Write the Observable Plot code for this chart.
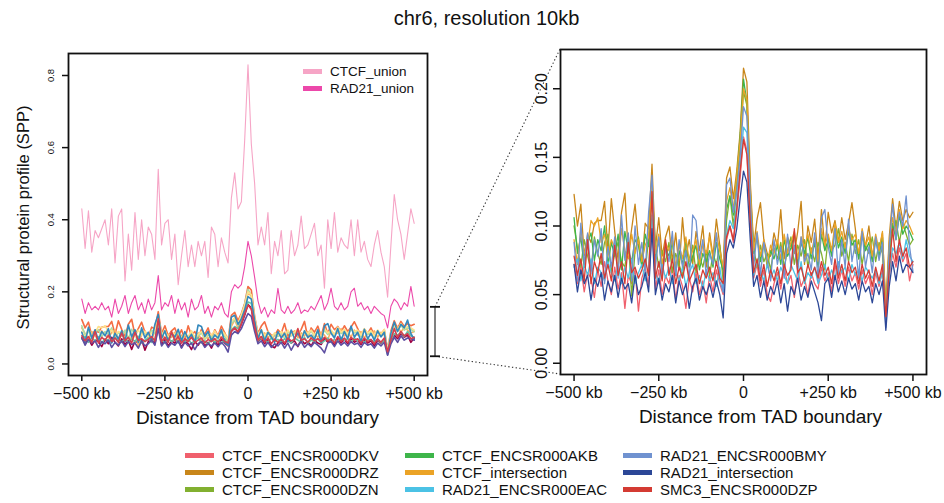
<!DOCTYPE html>
<html>
<head>
<meta charset="utf-8">
<script src="https://cdn.jsdelivr.net/npm/d3@7"></script>
<script src="https://cdn.jsdelivr.net/npm/@observablehq/plot@0.6"></script>
<style>
  body { margin: 0; background: #fff; }
  #page { position: relative; width: 944px; height: 503px; overflow: hidden;
          font-family: "Liberation Sans", Arial, sans-serif; color: #111; background: #fff; }
  #page svg { position: absolute; left: 0; top: 0; }
  #title { position: absolute; left: 0; width: 973px; top: 8px; text-align: center;
           font-size: 20px; line-height: 20px; }
  .legend { position: absolute; display: grid; grid-auto-flow: column; }
  .legend .item { display: flex; align-items: center; white-space: nowrap; }
  .legend .sw { display: inline-block; height: 5px; }
  #inner-legend { left: 303px; top: 62.5px; grid-template-rows: repeat(2, 17px); font-size: 13.5px; }
  #inner-legend .sw { width: 19px; margin-right: 8px; }
  #bottom-legend { left: 185px; top: 446.5px; grid-template-rows: repeat(3, 17px);
                   grid-template-columns: 220px 218px auto; font-size: 15px; }
  #bottom-legend .sw { width: 29px; margin-right: 8px; }
</style>
</head>
<body>
<div id="page">
  <div id="title">chr6, resolution 10kb</div>
</div>
<script>
// ---------- data ----------
const distance = d3.range(-500, 501, 10); // kb from TAD boundary, 10 kb bins
const xTicks = [-500, -250, 0, 250, 500];
const xTickLabels = ["\u2212500 kb", "\u2212250 kb", "0", "+250 kb", "+500 kb"];
const leftYTicks = [0, 0.2, 0.4, 0.6, 0.8];
const leftYTickLabels = ["0.0", "0.2", "0.4", "0.6", "0.8"];
const rightYTicks = [0, 0.05, 0.1, 0.15, 0.2];
const rightYTickLabels = ["0.00", "0.05", "0.10", "0.15", "0.20"];

const unionNames = ["CTCF_union", "RAD21_union"];
const unionColors = ["#F6A5C6", "#EC48AA"];

const seriesNames = ["CTCF_ENCSR000DKV", "CTCF_ENCSR000DRZ", "CTCF_ENCSR000DZN",
  "CTCF_ENCSR000AKB", "CTCF_intersection", "RAD21_ENCSR000EAC",
  "RAD21_ENCSR000BMY", "RAD21_intersection", "SMC3_ENCSR000DZP"];
const seriesColors = ["#F0606D", "#C8861A", "#82B030", "#3EB54A", "#EBA326",
  "#4BC2E5", "#7092D0", "#2C4797", "#D43B33"];
const overviewColors = ["#9E0142", "#F46D43", "#FDAE61", "#ABDDA4", "#FEE08B",
  "#66C2A5", "#3288BD", "#5E4FA2", "#D53E4F"];

const CTCF_union = [
  0.43,0.32,0.425,0.31,0.37,0.35,0.375,0.40,0.33,0.43,
  0.28,0.41,0.43,0.23,0.36,0.26,0.42,0.29,0.40,0.30,
  0.38,0.36,0.29,0.54,0.33,0.39,0.40,0.29,0.36,0.22,
  0.30,0.37,0.27,0.33,0.27,0.34,0.30,0.34,0.24,0.38,
  0.36,0.27,0.35,0.31,0.28,0.46,0.53,0.43,0.45,0.62,
  0.83,0.61,0.50,0.33,0.38,0.33,0.42,0.25,0.34,0.30,
  0.37,0.25,0.26,0.37,0.30,0.33,0.41,0.32,0.33,0.36,
  0.39,0.30,0.33,0.21,0.40,0.32,0.42,0.31,0.35,0.33,
  0.32,0.40,0.30,0.40,0.31,0.34,0.29,0.27,0.33,0.37,
  0.31,0.27,0.185,0.33,0.47,0.40,0.36,0.29,0.36,0.43,0.39];
const RAD21_union = [
  0.18,0.14,0.17,0.15,0.16,0.15,0.17,0.15,0.16,0.13,
  0.18,0.14,0.16,0.19,0.14,0.17,0.19,0.15,0.17,0.14,
  0.18,0.15,0.17,0.245,0.15,0.17,0.16,0.19,0.14,0.18,
  0.15,0.17,0.13,0.18,0.15,0.16,0.19,0.14,0.16,0.13,
  0.16,0.15,0.17,0.14,0.13,0.20,0.22,0.21,0.22,0.27,
  0.34,0.30,0.24,0.175,0.14,0.157,0.13,0.15,0.14,0.21,
  0.15,0.14,0.16,0.14,0.15,0.17,0.14,0.15,0.145,0.16,
  0.15,0.17,0.19,0.15,0.17,0.21,0.16,0.15,0.17,0.15,
  0.16,0.20,0.21,0.16,0.17,0.15,0.16,0.14,0.16,0.15,
  0.14,0.134,0.10,0.16,0.18,0.17,0.15,0.17,0.16,0.215,0.16];

const CTCF_ENCSR000DKV = [
  0.072,0.058,0.070,0.052,0.066,0.062,0.048,0.068,0.056,0.074,
  0.060,0.050,0.070,0.054,0.066,0.040,0.064,0.058,0.068,0.038,
  0.062,0.070,0.056,0.105,0.054,0.068,0.050,0.064,0.058,0.070,
  0.046,0.064,0.056,0.040,0.062,0.052,0.066,0.050,0.060,0.044,
  0.064,0.052,0.068,0.058,0.050,0.090,0.100,0.088,0.110,0.135,
  0.165,0.155,0.100,0.062,0.072,0.056,0.068,0.050,0.045,0.058,
  0.066,0.054,0.070,0.058,0.064,0.048,0.068,0.056,0.062,0.050,
  0.066,0.058,0.054,0.070,0.060,0.066,0.052,0.072,0.058,0.068,
  0.056,0.070,0.060,0.066,0.054,0.068,0.058,0.064,0.050,0.066,
  0.056,0.068,0.032,0.064,0.080,0.070,0.084,0.074,0.080,0.060,0.072];
const CTCF_ENCSR000DRZ = [
  0.123,0.100,0.116,0.078,0.094,0.088,0.102,0.104,0.104,0.118,
  0.082,0.120,0.096,0.075,0.110,0.124,0.080,0.098,0.116,0.088,
  0.072,0.102,0.098,0.145,0.084,0.106,0.078,0.092,0.100,0.074,
  0.095,0.068,0.106,0.078,0.090,0.072,0.096,0.082,0.100,0.070,
  0.095,0.078,0.105,0.086,0.066,0.135,0.143,0.120,0.140,0.168,
  0.215,0.205,0.132,0.085,0.105,0.117,0.090,0.080,0.078,0.095,
  0.085,0.112,0.076,0.092,0.085,0.080,0.096,0.118,0.072,0.100,
  0.088,0.105,0.076,0.112,0.084,0.110,0.095,0.104,0.088,0.106,
  0.090,0.102,0.117,0.098,0.076,0.096,0.085,0.100,0.078,0.090,
  0.082,0.095,0.040,0.092,0.120,0.098,0.118,0.104,0.112,0.106,0.110];
const CTCF_ENCSR000DZN = [
  0.100,0.084,0.070,0.090,0.078,0.068,0.092,0.080,0.072,0.088,
  0.094,0.066,0.080,0.088,0.074,0.070,0.090,0.049,0.082,0.092,
  0.076,0.068,0.090,0.128,0.086,0.070,0.082,0.074,0.088,0.066,
  0.080,0.072,0.064,0.082,0.076,0.086,0.066,0.078,0.070,0.082,
  0.064,0.080,0.072,0.086,0.060,0.104,0.122,0.100,0.128,0.158,
  0.198,0.188,0.118,0.084,0.070,0.086,0.074,0.080,0.068,0.084,
  0.076,0.088,0.070,0.082,0.092,0.072,0.086,0.078,0.090,0.070,
  0.084,0.074,0.088,0.080,0.068,0.092,0.082,0.086,0.098,0.078,
  0.088,0.074,0.094,0.080,0.090,0.072,0.086,0.080,0.092,0.074,
  0.088,0.080,0.036,0.078,0.096,0.104,0.088,0.102,0.094,0.086,0.090];
const CTCF_ENCSR000AKB = [
  0.106,0.080,0.092,0.070,0.088,0.095,0.075,0.090,0.082,0.100,
  0.072,0.088,0.078,0.094,0.068,0.096,0.082,0.074,0.090,0.086,
  0.070,0.094,0.085,0.130,0.076,0.090,0.068,0.084,0.078,0.088,
  0.066,0.082,0.072,0.090,0.070,0.078,0.086,0.068,0.080,0.074,
  0.082,0.070,0.088,0.076,0.068,0.112,0.122,0.108,0.135,0.165,
  0.207,0.190,0.125,0.080,0.092,0.074,0.088,0.070,0.082,0.076,
  0.086,0.072,0.090,0.078,0.084,0.094,0.072,0.088,0.080,0.092,
  0.076,0.088,0.070,0.094,0.082,0.090,0.078,0.100,0.084,0.092,
  0.080,0.096,0.086,0.090,0.076,0.094,0.082,0.088,0.074,0.090,
  0.078,0.092,0.035,0.084,0.102,0.090,0.108,0.094,0.100,0.096,0.090];
const CTCF_intersection = [
  0.090,0.072,0.098,0.080,0.086,0.104,0.100,0.106,0.088,0.094,
  0.078,0.090,0.084,0.070,0.098,0.082,0.076,0.094,0.080,0.090,
  0.074,0.086,0.092,0.132,0.080,0.094,0.072,0.088,0.082,0.090,
  0.070,0.086,0.076,0.092,0.074,0.082,0.090,0.072,0.086,0.080,
  0.092,0.076,0.094,0.082,0.070,0.118,0.128,0.112,0.136,0.162,
  0.200,0.192,0.128,0.082,0.096,0.078,0.090,0.072,0.086,0.080,
  0.090,0.076,0.094,0.080,0.088,0.096,0.076,0.092,0.084,0.094,
  0.080,0.092,0.074,0.098,0.086,0.094,0.082,0.102,0.088,0.096,
  0.084,0.098,0.090,0.094,0.080,0.098,0.086,0.092,0.078,0.094,
  0.082,0.096,0.038,0.088,0.106,0.094,0.112,0.098,0.104,0.100,0.094];
const RAD21_ENCSR000EAC = [
  0.070,0.076,0.060,0.072,0.064,0.076,0.058,0.070,0.066,0.060,
  0.074,0.066,0.060,0.072,0.058,0.070,0.062,0.076,0.058,0.066,
  0.072,0.060,0.070,0.108,0.066,0.058,0.072,0.062,0.070,0.058,
  0.066,0.060,0.070,0.056,0.066,0.072,0.058,0.064,0.054,0.068,
  0.060,0.066,0.056,0.070,0.052,0.094,0.104,0.098,0.116,0.142,
  0.172,0.168,0.112,0.064,0.074,0.068,0.060,0.072,0.062,0.068,
  0.060,0.070,0.064,0.058,0.072,0.066,0.060,0.074,0.058,0.066,
  0.062,0.070,0.058,0.064,0.072,0.060,0.068,0.062,0.074,0.066,
  0.070,0.060,0.072,0.064,0.068,0.060,0.070,0.066,0.062,0.068,
  0.058,0.066,0.030,0.066,0.084,0.080,0.088,0.076,0.090,0.078,0.074];
const RAD21_ENCSR000BMY = [
  0.088,0.060,0.102,0.072,0.095,0.065,0.090,0.078,0.098,0.058,
  0.085,0.070,0.092,0.062,0.108,0.075,0.095,0.060,0.100,0.072,
  0.088,0.066,0.110,0.137,0.070,0.092,0.062,0.085,0.074,0.096,
  0.064,0.090,0.070,0.082,0.060,0.108,0.104,0.076,0.090,0.064,
  0.080,0.072,0.095,0.060,0.052,0.130,0.135,0.110,0.125,0.150,
  0.187,0.180,0.120,0.070,0.095,0.064,0.088,0.075,0.060,0.090,
  0.072,0.085,0.062,0.094,0.070,0.086,0.066,0.092,0.074,0.080,
  0.068,0.095,0.060,0.106,0.112,0.085,0.072,0.098,0.065,0.090,
  0.070,0.105,0.074,0.088,0.062,0.096,0.070,0.085,0.066,0.092,
  0.075,0.088,0.026,0.085,0.116,0.090,0.110,0.100,0.122,0.085,0.067];
const RAD21_intersection = [
  0.072,0.052,0.068,0.058,0.064,0.046,0.062,0.056,0.066,0.046,
  0.060,0.052,0.064,0.048,0.062,0.054,0.058,0.044,0.064,0.050,
  0.056,0.066,0.052,0.098,0.050,0.062,0.046,0.058,0.052,0.064,
  0.044,0.060,0.050,0.058,0.040,0.056,0.062,0.046,0.056,0.050,
  0.058,0.048,0.060,0.050,0.033,0.080,0.090,0.084,0.098,0.120,
  0.140,0.132,0.090,0.056,0.064,0.048,0.060,0.046,0.056,0.050,
  0.060,0.044,0.058,0.038,0.056,0.050,0.062,0.046,0.056,0.048,
  0.060,0.052,0.044,0.031,0.058,0.062,0.048,0.064,0.052,0.060,
  0.050,0.062,0.054,0.058,0.046,0.060,0.052,0.056,0.044,0.058,
  0.050,0.060,0.024,0.056,0.074,0.060,0.078,0.066,0.072,0.070,0.066];
const SMC3_ENCSR000DZP = [
  0.078,0.064,0.076,0.060,0.090,0.058,0.074,0.066,0.080,0.062,
  0.072,0.060,0.086,0.064,0.074,0.058,0.088,0.066,0.070,0.062,
  0.068,0.076,0.064,0.125,0.062,0.074,0.060,0.090,0.064,0.076,
  0.058,0.070,0.062,0.074,0.060,0.066,0.072,0.058,0.068,0.062,
  0.070,0.060,0.074,0.062,0.058,0.092,0.100,0.090,0.112,0.140,
  0.163,0.152,0.104,0.066,0.076,0.060,0.072,0.056,0.068,0.060,
  0.070,0.058,0.072,0.064,0.068,0.098,0.066,0.070,0.060,0.072,
  0.064,0.070,0.062,0.074,0.064,0.070,0.058,0.076,0.062,0.072,
  0.060,0.074,0.066,0.070,0.058,0.072,0.062,0.068,0.056,0.070,
  0.060,0.072,0.034,0.068,0.098,0.074,0.090,0.078,0.084,0.070,0.074];

const zoomBracket = [0.02, 0.157]; // SPP range magnified in the right panel

const seriesValues = [CTCF_ENCSR000DKV, CTCF_ENCSR000DRZ, CTCF_ENCSR000DZN,
  CTCF_ENCSR000AKB, CTCF_intersection, RAD21_ENCSR000EAC,
  RAD21_ENCSR000BMY, RAD21_intersection, SMC3_ENCSR000DZP];
const unionValues = [CTCF_union, RAD21_union];

// ---------- plots ----------
const FONT = '"Liberation Sans", Arial, sans-serif';
const xLabel = "Distance from TAD boundary";
const fmtX = d => xTickLabels[xTicks.indexOf(d)];

const left = Plot.plot({
  width: 944, height: 503,
  marginLeft: 68, marginRight: 517, marginTop: 53, marginBottom: 128,
  x: {domain: [-540, 540]},
  y: {domain: [-0.032, 0.861]},
  style: {background: "transparent", fontFamily: FONT, color: "#111", overflow: "visible"},
  marks: [
    ...unionValues.map((v, i) => Plot.lineY(v, {x: distance, stroke: unionColors[i], strokeWidth: 1.1})),
    ...seriesValues.map((v, i) => Plot.lineY(v, {x: distance, stroke: overviewColors[i], strokeWidth: 1.6})),
    Plot.frame({stroke: "#111", strokeWidth: 1.8}),
    Plot.axisX({ticks: xTicks, tickFormat: fmtX, tickSize: 6, tickPadding: 6, fontSize: 16, label: null, strokeWidth: 1.5}),
    Plot.axisY({ticks: leftYTicks, tickFormat: () => "", tickSize: 6, label: null, strokeWidth: 1.5}),
    Plot.text(leftYTicks, {y: d => d, text: d => leftYTickLabels[leftYTicks.indexOf(d)], frameAnchor: "left",
      textAnchor: "middle", lineAnchor: "middle", dx: -18, rotate: -90, fontSize: 9.5}),
    Plot.text([xLabel], {frameAnchor: "bottom", textAnchor: "middle", lineAnchor: "bottom", dy: 48, dx: 9.5, fontSize: 19}),
    Plot.text(["Structural protein profile (SPP)"], {frameAnchor: "left", textAnchor: "middle", lineAnchor: "middle",
      rotate: -90, dx: -45, dy: 3, fontSize: 16.5})
  ]
});

const right = Plot.plot({
  width: 944, height: 503,
  marginLeft: 560, marginRight: 18, marginTop: 49, marginBottom: 129,
  x: {domain: [-540, 540]},
  y: {domain: [-0.0082, 0.2286]},
  style: {background: "transparent", fontFamily: FONT, color: "#111", overflow: "visible"},
  marks: [
    ...seriesValues.map((v, i) => Plot.lineY(v, {x: distance, stroke: seriesColors[i], strokeWidth: 1.3})),
    Plot.frame({stroke: "#111", strokeWidth: 1.8}),
    Plot.axisX({ticks: xTicks, tickFormat: fmtX, tickSize: 7, tickPadding: 5.5, fontSize: 16, label: null, strokeWidth: 1.5}),
    Plot.axisY({ticks: rightYTicks, tickFormat: () => "", tickSize: 7, label: null, strokeWidth: 1.5}),
    Plot.text(rightYTicks, {y: d => d, text: d => rightYTickLabels[rightYTicks.indexOf(d)], frameAnchor: "left",
      textAnchor: "middle", lineAnchor: "middle", dx: -19, rotate: -90, fontSize: 16}),
    Plot.text([xLabel], {frameAnchor: "bottom", textAnchor: "middle", lineAnchor: "bottom", dy: 48.7, dx: 17, fontSize: 19})
  ]
});

const page = document.getElementById("page");
page.appendChild(left);
page.appendChild(right);

// ---------- zoom bracket and connectors (positions from the scales) ----------
const lx = left.scale("x"), ly = left.scale("y");
const rx = right.scale("x"), ry = right.scale("y");
const bx = lx.range[1] + 8;
const yHi = ly.apply(zoomBracket[1]), yLo = ly.apply(zoomBracket[0]);
const rLeft = rx.range[0], rTop = ry.range[1], rBottom = ry.range[0];

const overlay = d3.create("svg").attr("width", 944).attr("height", 503);
const seg = (x1, y1, x2, y2) => overlay.append("line").attr("x1", x1).attr("y1", y1).attr("x2", x2).attr("y2", y2);
seg(bx, yHi, rLeft, rTop).attr("stroke", "#333").attr("stroke-width", 1.1).attr("stroke-dasharray", "1.3 2.4");
seg(bx, yLo, rLeft, rBottom).attr("stroke", "#333").attr("stroke-width", 1.1).attr("stroke-dasharray", "1.3 2.4");
seg(bx, yHi, bx, yLo).attr("stroke", "#555").attr("stroke-width", 1.5);
seg(bx - 5, yHi, bx + 5, yHi).attr("stroke", "#111").attr("stroke-width", 1.8);
seg(bx - 5, yLo, bx + 5, yLo).attr("stroke", "#111").attr("stroke-width", 1.8);
page.appendChild(overlay.node());

// ---------- legends ----------
function legend(id, names, colors) {
  const div = document.createElement("div");
  div.className = "legend";
  div.id = id;
  names.forEach((n, i) => {
    const item = document.createElement("div");
    item.className = "item";
    const sw = document.createElement("span");
    sw.className = "sw";
    sw.style.background = colors[i];
    item.appendChild(sw);
    item.appendChild(document.createTextNode(n));
    div.appendChild(item);
  });
  page.appendChild(div);
}
legend("inner-legend", unionNames, unionColors);
legend("bottom-legend", seriesNames, seriesColors);
</script>
</body>
</html>
